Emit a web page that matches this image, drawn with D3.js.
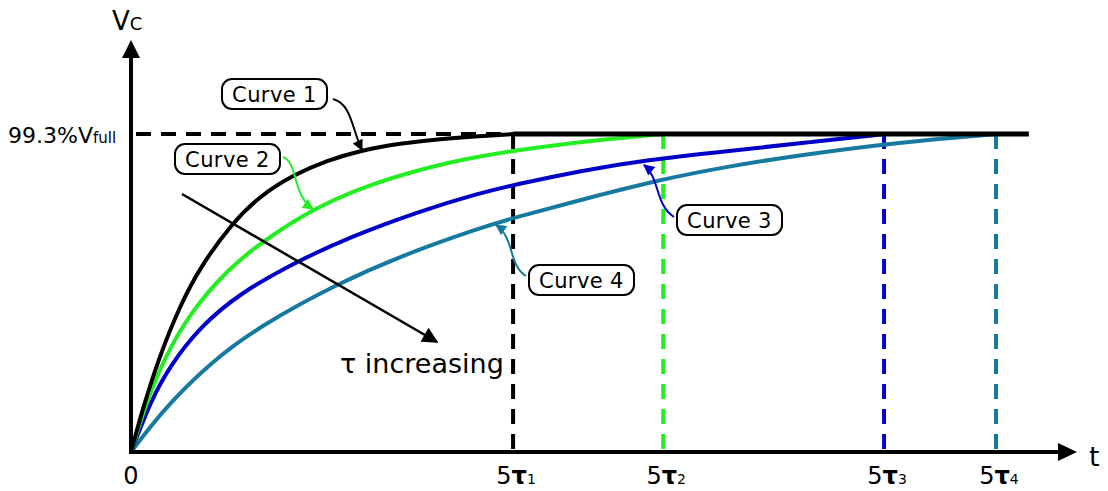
<!DOCTYPE html>
<html>
<head>
<meta charset="utf-8">
<script src="https://cdn.jsdelivr.net/npm/d3@7"></script>
<style>
  body { margin: 0; background: #fff; }
  text { font-family: "DejaVu Sans", Verdana, sans-serif; fill: #000; }
</style>
</head>
<body>
<svg id="chart" width="1108" height="491"></svg>
<script>
// Capacitor charging curves Vc(t); time in units of tau1, level as a fraction of Vfull
const curveNames = ["Curve 1", "Curve 2", "Curve 3", "Curve 4"];
const curveColors = ["#000000", "#22ee22", "#0000c8", "#167aa0"];
const tauValues = [1.0, 1.393, 1.971, 2.264];
const tickSubscripts = ["1", "2", "3", "4"];

const curve1Time  = [0, 0.157, 0.380, 0.641, 0.903, 1.322, 1.688, 2.120, 2.565, 3.024, 3.521, 4.045, 4.568, 5.0];
const curve1Level = [0, 0.139, 0.304, 0.457, 0.577, 0.715, 0.800, 0.865, 0.911, 0.943, 0.964, 0.978, 0.987, 0.993];

const curve2Time  = [0, 0.209, 0.445, 0.772, 1.257, 1.728, 2.382, 2.997, 3.783, 4.568, 5.353, 6.139, 6.963];
const curve2Level = [0, 0.162, 0.297, 0.434, 0.569, 0.659, 0.759, 0.825, 0.884, 0.925, 0.953, 0.975, 0.993];

const curve3Time  = [0, 0.262, 0.510, 0.903, 1.427, 2.186, 2.866, 3.783, 4.568, 5.0, 5.877, 6.715, 7.932, 8.887, 9.856];
const curve3Level = [0, 0.162, 0.269, 0.391, 0.497, 0.597, 0.672, 0.753, 0.809, 0.834, 0.878, 0.912, 0.943, 0.968, 0.993];

const curve4Time  = [0, 0.249, 0.510, 1.034, 1.688, 2.696, 3.521, 4.568, 5.0, 5.877, 6.963, 7.840, 8.757, 10.065, 11.322];
const curve4Level = [0, 0.078, 0.153, 0.278, 0.394, 0.525, 0.612, 0.700, 0.731, 0.787, 0.853, 0.893, 0.928, 0.968, 0.993];

const settledLevel = 0.993;          // level reached after 5 tau
const levelLabel = "99.3%";
const plateauEnd = 11.75;            // time where the settled line stops
const timeMax = 12.38;
const levelMax = 1.287;

const svg = d3.select("#chart");
const x = d3.scaleLinear().domain([0, timeMax]).range([131, 1077]);
const y = d3.scaleLinear().domain([0, levelMax]).range([452, 40]);

// arrowhead markers
const defs = svg.append("defs");
function marker(id, color, w, h) {
  defs.append("marker")
    .attr("id", id)
    .attr("viewBox", "0 0 10 10")
    .attr("refX", 9).attr("refY", 5)
    .attr("markerUnits", "userSpaceOnUse")
    .attr("markerWidth", w).attr("markerHeight", h)
    .attr("orient", "auto")
    .append("path").attr("d", "M0,0 L10,5 L0,10 Z").attr("fill", color);
}
curveColors.forEach((c, i) => marker("head" + i, c, 12, 11));
marker("headBig", "#000", 22, 16);

const level = y(settledLevel);

// horizontal dashed reference at the settled level, up to 5*tau1
svg.append("line")
  .attr("x1", x(0)).attr("x2", x(5 * tauValues[0]))
  .attr("y1", level).attr("y2", level)
  .attr("stroke", "#000").attr("stroke-width", 4)
  .attr("stroke-dasharray", "15,10").attr("stroke-dashoffset", -5);

// vertical dashed markers at 5*tau for each curve
svg.selectAll("line.mark").data(tauValues).join("line")
  .attr("class", "mark")
  .attr("x1", d => x(5 * d)).attr("x2", d => x(5 * d))
  .attr("y1", level).attr("y2", y(0))
  .attr("stroke", (d, i) => curveColors[i]).attr("stroke-width", 4)
  .attr("stroke-dasharray", "15,10");

// charging curves
const series = [
  [curve1Time, curve1Level],
  [curve2Time, curve2Level],
  [curve3Time, curve3Level],
  [curve4Time, curve4Level]
].map(([ts, vs], i) => ({ color: curveColors[i], points: ts.map((t, k) => [t, vs[k]]) }));

const line = d3.line().x(d => x(d[0])).y(d => y(d[1])).curve(d3.curveBasis);
svg.selectAll("path.curve").data(series.slice().reverse()).join("path")
  .attr("class", "curve")
  .attr("d", d => line(d.points))
  .attr("fill", "none")
  .attr("stroke", d => d.color)
  .attr("stroke-width", 4);

// settled level after 5*tau1
svg.append("line")
  .attr("x1", x(5 * tauValues[0])).attr("x2", x(plateauEnd))
  .attr("y1", level).attr("y2", level)
  .attr("stroke", "#000").attr("stroke-width", 5);

// axes
svg.append("line").attr("x1", x(0)).attr("x2", x(0))
  .attr("y1", y(0) + 2).attr("y2", y(levelMax) + 16)
  .attr("stroke", "#000").attr("stroke-width", 4);
svg.append("path")
  .attr("d", `M${x(0)},${y(levelMax)} L${x(0) - 9},${y(levelMax) + 18} L${x(0) + 9},${y(levelMax) + 18} Z`)
  .attr("fill", "#000");
svg.append("line").attr("x1", x(0) - 2).attr("x2", x(timeMax) - 16)
  .attr("y1", y(0)).attr("y2", y(0))
  .attr("stroke", "#000").attr("stroke-width", 4);
svg.append("path")
  .attr("d", `M${x(timeMax)},${y(0)} L${x(timeMax) - 19},${y(0) - 9} L${x(timeMax) - 19},${y(0) + 9} Z`)
  .attr("fill", "#000");

// axis titles
const vc = svg.append("text").attr("x", 112).attr("y", 30).attr("font-size", 26);
vc.append("tspan").text("V");
vc.append("tspan").attr("font-size", 18).text("C");
svg.append("text").attr("x", 1089).attr("y", 466).attr("font-size", 27).text("t");

// label for the settled level
const yl = svg.append("text").attr("x", 8).attr("y", 143).attr("font-size", 22);
yl.append("tspan").text(levelLabel + "V");
yl.append("tspan").attr("font-size", 15).text("full");

// x tick labels
svg.append("text").attr("x", x(0)).attr("y", 484).attr("text-anchor", "middle")
  .attr("font-size", 24).text("0");
tauValues.forEach((tau, i) => {
  const t = svg.append("text").attr("x", x(5 * tau) + 3).attr("y", 484)
    .attr("text-anchor", "middle").attr("font-size", 24);
  t.append("tspan").text("5");
  t.append("tspan").attr("font-weight", "bold").text("\u03c4");
  t.append("tspan").attr("font-size", 14).text(tickSubscripts[i]);
});

// curve callouts
const callouts = [
  { box: [222, 79], arrow: "M333,99 C352,104 352,130 362,150" },
  { box: [175, 144], arrow: "M283,157 C298,162 292,195 313,209" },
  { box: [677, 205], arrow: "M674,217 C655,205 660,178 644,165" },
  { box: [529, 265], arrow: "M526,276 C508,265 515,238 496,225" }
];
callouts.forEach((c, i) => {
  svg.append("path").attr("d", c.arrow).attr("fill", "none")
    .attr("stroke", curveColors[i]).attr("stroke-width", 2)
    .attr("marker-end", `url(#head${i})`);
  svg.append("rect").attr("x", c.box[0]).attr("y", c.box[1])
    .attr("width", 105).attr("height", 30).attr("rx", 10)
    .attr("fill", "#fff").attr("stroke", "#000").attr("stroke-width", 2);
  svg.append("text").attr("x", c.box[0] + 52.5).attr("y", c.box[1] + 23)
    .attr("text-anchor", "middle").attr("font-size", 21)
    .attr("letter-spacing", 0.4).text(curveNames[i]);
});

// tau increasing arrow
svg.append("line").attr("x1", 182).attr("y1", 194).attr("x2", 437).attr("y2", 342)
  .attr("stroke", "#000").attr("stroke-width", 2.5)
  .attr("marker-end", "url(#headBig)");
svg.append("text").attr("x", 340).attr("y", 373).attr("font-size", 27)
  .text("\u03c4 increasing");
</script>
</body>
</html>
